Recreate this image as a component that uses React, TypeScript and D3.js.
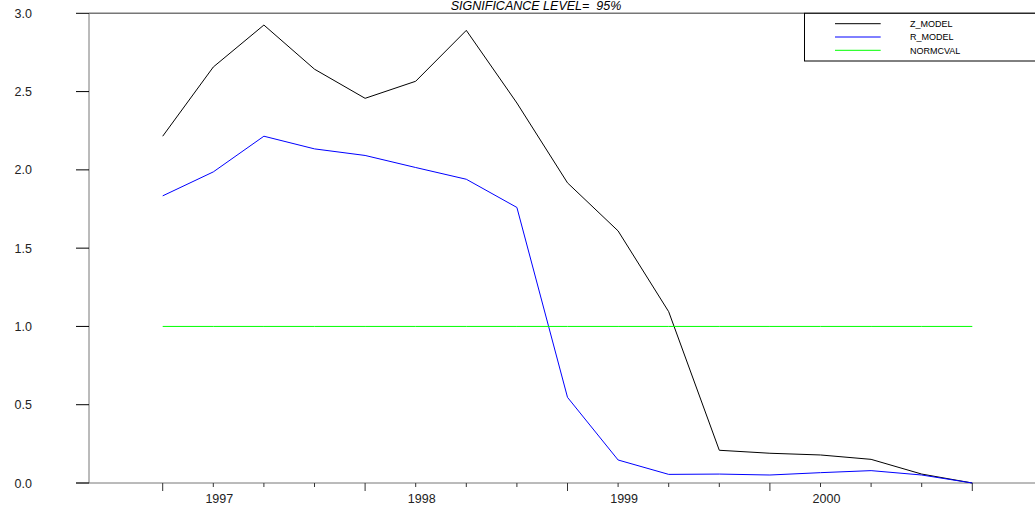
import React from "react";
import * as d3 from "d3";

const quarters = [1996.75, 1997.0, 1997.25, 1997.5, 1997.75, 1998.0, 1998.25, 1998.5, 1998.75, 1999.0, 1999.25, 1999.5, 1999.75, 2000.0, 2000.25, 2000.5, 2000.75];
const zModel = [2.215, 2.657, 2.925, 2.643, 2.457, 2.566, 2.891, 2.427, 1.917, 1.61, 1.094, 0.209, 0.19, 0.179, 0.151, 0.057, 0.0];
const rModel = [1.834, 1.987, 2.215, 2.134, 2.092, 2.015, 1.94, 1.76, 0.547, 0.147, 0.055, 0.057, 0.051, 0.066, 0.079, 0.051, 0.0];
const normcval = [1, 1, 1, 1, 1, 1, 1, 1, 1, 1, 1, 1, 1, 1, 1, 1, 1];
const yTicks = [0, 0.5, 1.0, 1.5, 2.0, 2.5, 3.0];
const yearLabels = [1997, 1998, 1999, 2000];
const seriesNames = ["Z_MODEL", "R_MODEL", "NORMCVAL"];
const seriesColors = ["#000000", "#0000ff", "#00ff00"];
const title = "SIGNIFICANCE LEVEL=  95%";

export default function App() {
  const W = 1035, H = 508;
  const left = 89, right = 1035, top = 13.3, bottom = 483;
  const x = d3.scaleLinear().domain([1996.75, 2000.75]).range([162.7, 972.3]);
  const y = d3.scaleLinear().domain([0, 3]).range([bottom, top]);
  const font = "'Liberation Sans', Arial, sans-serif";
  const series = [zModel, rModel, normcval];
  const line = d3.line<number>().x((_, i) => x(quarters[i])).y((d) => y(d));

  return (
    <svg width={W} height={H} style={{ position: "absolute", left: 0, top: 0, background: "#fff" }} fontFamily={font}>
      <rect x={0} y={0} width={W} height={H} fill="#fff" />
      <text x={536} y={10} textAnchor="middle" fontSize={12.5} fontStyle="italic" fill="#000" style={{ whiteSpace: "pre" }}>{title}</text>
      {/* frame */}
      <line x1={left} x2={right} y1={top} y2={top} stroke="#777" strokeWidth={1.5} />
      <line x1={left} x2={left} y1={top} y2={bottom} stroke="#777" strokeWidth={1} />
      <line x1={76} x2={right} y1={bottom} y2={bottom} stroke="#777" strokeWidth={1} />
      {/* y ticks */}
      {yTicks.map((t) => (
        <g key={t}>
          <line x1={76} x2={left} y1={y(t)} y2={y(t)} stroke="#000" strokeWidth={1} />
          <text x={32} y={y(t)} dy="0.36em" textAnchor="end" fontSize={12.5} fill="#222">{t.toFixed(1)}</text>
        </g>
      ))}
      {/* x ticks */}
      {quarters.map((q, i) => (
        <line key={q} x1={x(q)} x2={x(q)} y1={bottom} y2={bottom + (i % 4 === 0 ? 8 : 4)} stroke="#333" strokeWidth={1} />
      ))}
      {yearLabels.map((yr) => (
        <text key={yr} x={x(yr) + 6} y={502.5} textAnchor="middle" fontSize={12.5} fill="#222">{yr}</text>
      ))}
      {/* series */}
      {series.map((s, k) => (
        <path key={k} d={line(s) || ""} fill="none" stroke={seriesColors[k]} strokeWidth={1} />
      ))}
      {/* legend */}
      <g>
        <rect x={804.5} y={top} width={300} height={61 - top} fill="#fff" stroke="#000" strokeWidth={1} />
        {seriesNames.map((n, k) => (
          <g key={n}>
            <line x1={835} x2={880.7} y1={23.7 + k * 13.3} y2={23.7 + k * 13.3} stroke={seriesColors[k]} strokeWidth={1} />
            <text x={910} y={23.7 + k * 13.3} dy="0.36em" fontSize={9} fill="#000">{n}</text>
          </g>
        ))}
      </g>
    </svg>
  );
}
